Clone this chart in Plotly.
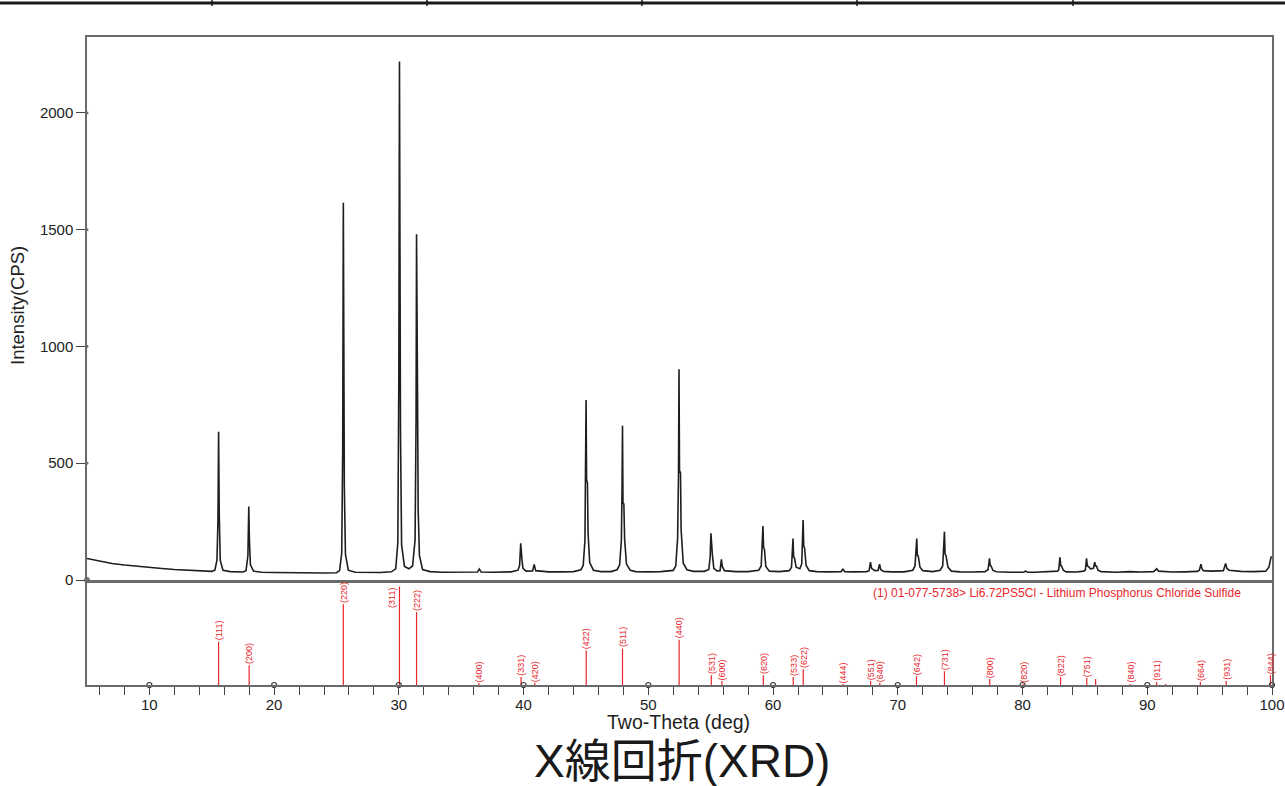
import plotly.graph_objects as go

two_theta = [
    5.0, 5.5, 6.0, 7.0, 8.0, 9.0, 10.0, 11.0, 12.0, 13.0, 14.0, 15.0,
    15.25, 15.42, 15.5, 15.55, 15.6, 15.68, 15.9, 16.5, 17.5,
    17.75, 17.9, 17.97, 18.02, 18.1, 18.35, 19.0, 20.0, 21.0, 22.0, 23.0, 24.0, 25.0,
    25.25, 25.42, 25.5, 25.55, 25.58, 25.63, 25.72, 25.95, 26.5, 27.5, 28.5, 29.4,
    29.75, 29.92, 30.0, 30.05, 30.08, 30.13, 30.22, 30.45, 30.8,
    31.1, 31.3, 31.38, 31.42, 31.45, 31.5, 31.55, 31.65, 31.9, 32.5, 33.5, 35.0,
    36.3, 36.45, 36.6, 37.5, 39.0, 39.55,
    39.68, 39.77, 39.82, 39.87, 39.95, 40.2, 40.72, 40.85, 40.97, 42.0, 43.0, 44.0, 44.6,
    44.78, 44.92, 44.97, 45.01, 45.05, 45.12, 45.17, 45.3, 45.6, 46.2, 47.0, 47.5,
    47.7, 47.84, 47.89, 47.93, 47.97, 48.04, 48.1, 48.25, 48.55, 49.0, 50.0, 51.0, 52.0,
    52.2, 52.35, 52.42, 52.46, 52.5, 52.58, 52.63, 52.8, 53.1, 53.6, 54.5,
    54.85, 54.96, 55.02, 55.07, 55.13, 55.25, 55.5, 55.75, 55.86, 55.93, 56.1, 57.0, 58.0,
    58.85, 59.05, 59.19, 59.24, 59.31, 59.42, 59.7, 60.5, 61.3,
    61.48, 61.6, 61.65, 61.72, 61.85, 62.15, 62.3, 62.41, 62.46, 62.53, 62.65, 62.9,
    63.5, 64.5, 65.45, 65.6, 65.75, 66.5, 67.5,
    67.7, 67.81, 67.9, 68.15, 68.42, 68.54, 68.63, 68.85, 69.5, 70.5, 71.2,
    71.38, 71.52, 71.57, 71.64, 71.78, 72.0, 72.8, 73.4,
    73.6, 73.74, 73.79, 73.87, 74.02, 74.3, 75.0, 76.0, 77.0,
    77.24, 77.35, 77.41, 77.48, 77.62, 77.9, 79.0, 80.1, 80.25, 80.4, 81.0, 82.0, 82.8,
    82.9, 83.0, 83.06, 83.13, 83.27, 83.5, 84.3, 84.9,
    85.04, 85.13, 85.2, 85.28, 85.45, 85.68, 85.79, 85.85, 85.93, 86.05, 86.3,
    87.5, 88.6, 89.5, 90.5, 90.76, 90.9, 92.0, 93.0, 94.0,
    94.18, 94.3, 94.38, 94.5, 95.2, 96.1, 96.28, 96.38, 96.55, 97.5, 98.5, 99.5,
    99.75, 99.93, 100.0,
]
intensity = [
    92, 86, 80, 71, 64, 58, 53, 49, 45, 42, 39, 37,
    42, 85, 260, 635, 290, 85, 42, 36, 34,
    40, 105, 315, 170, 65, 38, 33, 32, 31, 31, 30, 30, 31,
    40, 115, 560, 1615, 880, 400, 110, 42, 33, 31, 32, 35,
    48, 160, 880, 2220, 1250, 650, 150, 58, 48,
    60, 170, 680, 1480, 830, 790, 300, 105, 45, 36, 33, 33,
    34, 47, 34, 33, 35, 42,
    62, 157, 95, 86, 50, 38, 39, 67, 40, 35, 35, 36, 44,
    62, 170, 400, 771, 430, 415, 200, 75, 42, 36, 36, 44,
    65, 170, 380, 660, 330, 325, 175, 68, 42, 36, 35, 36, 41,
    60, 180, 450, 902, 470, 458, 215, 72, 44, 37, 37,
    45, 100, 200, 118, 112, 50, 39, 40, 88, 58, 40, 36, 36,
    42, 60, 231, 140, 131, 58, 38, 36, 40,
    55, 178, 100, 94, 55, 48, 70, 257, 145, 136, 62, 40,
    36, 35, 36, 46, 36, 35, 36,
    40, 76, 50, 40, 41, 68, 45, 37, 35, 35, 42,
    60, 178, 105, 103, 55, 40, 36, 42,
    60, 207, 112, 103, 55, 38, 35, 34, 36,
    45, 93, 62, 60, 42, 35, 33, 33, 39, 33, 33, 34, 38,
    43, 97, 62, 60, 42, 35, 34, 38,
    43, 93, 60, 58, 48, 50, 76, 60, 60, 42, 36,
    33, 36, 34, 36, 48, 38, 34, 35, 37,
    42, 68, 50, 40, 38, 40, 71, 50, 42, 37, 36, 38,
    55, 100, 95,
]

# ---------------- reference card 01-077-5738 (stick pattern) ----------------
ref_two_theta = [15.55, 18.0, 25.55, 30.05, 31.42, 36.42, 39.8, 40.9, 45.02, 47.93,
                 52.47, 55.05, 55.9, 59.22, 61.62, 62.42, 65.6, 67.82, 68.56, 71.5,
                 73.74, 77.37, 80.05, 83.05, 85.15, 85.86, 88.62, 90.75, 91.47, 94.26,
                 96.33, 99.88]
ref_rel_int = [44, 20, 82, 100, 74, 2, 8, 2, 35, 37,
               46, 10, 4, 10, 8, 16, 1, 4, 2, 9,
               14, 6, 1, 8, 7, 6, 1, 3, 1, 3,
               4, 10]
ref_hkl = ["(111)", "(200)", "(220)", "(311)", "(222)", "(400)", "(331)", "(420)", "(422)", "(511)",
           "(440)", "(531)", "(600)", "(620)", "(533)", "(622)", "(444)", "(551)", "(640)", "(642)",
           "(731)", "(800)", "(820)", "(822)", "(751)", "", "(840)", "(911)", "", "(664)",
           "(931)", "(844)"]

y_ticks = [0, 500, 1000, 1500, 2000]
x_ticks = [10, 20, 30, 40, 50, 60, 70, 80, 90, 100]
card_label = "(1) 01-077-5738> Li6.72PS5Cl - Lithium Phosphorus Chloride Sulfide"

W, H = 1285, 786
RED = "#e8262b"
FRAME = "#6a6a6a"
FONT = "Liberation Sans, Arial, Helvetica, sans-serif"

x_dom = [87 / W, 1272 / W]
y1_dom = [(H - 580) / H, (H - 37) / H]
y2_dom = [(H - 685) / H, (H - 583) / H]

fig = go.Figure()

# pattern
fig.add_trace(go.Scatter(x=two_theta, y=intensity, mode="lines",
                         line=dict(color="#1e1e1e", width=1.6),
                         xaxis="x", yaxis="y", hoverinfo="skip", showlegend=False))

# y-tick dots on the upper panel axis
fig.add_trace(go.Scatter(x=[5] * len(y_ticks), y=y_ticks, mode="markers",
                         marker=dict(color="#333", size=[7] + [4] * (len(y_ticks) - 1)),
                         xaxis="x", yaxis="y", cliponaxis=False,
                         hoverinfo="skip", showlegend=False))

# sticks
sx, sy = [], []
for t, r in zip(ref_two_theta, ref_rel_int):
    sx += [t, t, None]
    sy += [0, r, None]
fig.add_trace(go.Scatter(x=sx, y=sy, mode="lines", line=dict(color=RED, width=1.2),
                         xaxis="x2", yaxis="y2", hoverinfo="skip", showlegend=False))

# circle markers at major x positions
fig.add_trace(go.Scatter(x=x_ticks, y=[0] * len(x_ticks), mode="markers",
                         marker=dict(symbol="circle-open", color="#333", size=5,
                                     line=dict(width=1.2, color="#333")),
                         xaxis="x2", yaxis="y2", cliponaxis=False,
                         hoverinfo="skip", showlegend=False))

annotations = []
for t, r, lab in zip(ref_two_theta, ref_rel_int, ref_hkl):
    if not lab:
        continue
    if r >= 95:
        annotations.append(dict(x=t, y=r, xref="x2", yref="y2", text=lab, textangle=-90,
                                showarrow=False, xanchor="right", yanchor="top",
                                xshift=-1, borderpad=0,
                                font=dict(size=9, color=RED, family=FONT)))
    else:
        annotations.append(dict(x=t, y=r, xref="x2", yref="y2", text=lab, textangle=-90,
                                showarrow=False, xanchor="center", yanchor="bottom",
                                borderpad=0,
                                font=dict(size=9, color=RED, family=FONT)))

annotations.append(dict(x=1243 / W, y=(H - 593) / H, xref="paper", yref="paper",
                        text=card_label, showarrow=False, xanchor="right", yanchor="middle",
                        font=dict(size=12, color=RED, family=FONT)))
annotations.append(dict(x=17 / W, y=(H - 306) / H, xref="paper", yref="paper",
                        text="Intensity(CPS)", textangle=-90, showarrow=False,
                        xanchor="center", yanchor="middle",
                        font=dict(size=18.5, color="#222", family=FONT)))
annotations.append(dict(x=678 / W, y=(H - 722) / H, xref="paper", yref="paper",
                        text="Two-Theta (deg)", showarrow=False,
                        xanchor="center", yanchor="middle",
                        font=dict(size=19.5, color="#222", family=FONT)))
annotations.append(dict(x=682 / W, y=(H - 761) / H, xref="paper", yref="paper",
                        text="X線回折(XRD)", showarrow=False,
                        xanchor="center", yanchor="middle",
                        font=dict(size=46, color="#1a1a1a",
                                  family="Liberation Sans, Noto Sans CJK JP, sans-serif")))

# decorative top rule with small ticks
shapes = [dict(type="line", xref="paper", yref="paper", x0=0, x1=1, y0=(H - 3) / H, y1=(H - 3) / H,
               line=dict(color="#1a1a1a", width=3))]
for px in [212, 427, 642, 857, 1073]:
    shapes.append(dict(type="line", xref="paper", yref="paper", x0=px / W, x1=px / W,
                       y0=(H - 0) / H, y1=(H - 6) / H, line=dict(color="#1a1a1a", width=1.5)))

fig.update_layout(
    width=W, height=H,
    margin=dict(l=0, r=0, t=0, b=0),
    paper_bgcolor="white", plot_bgcolor="white",
    font=dict(family=FONT, color="#222"),
    showlegend=False,
    annotations=annotations,
    shapes=shapes,
    xaxis=dict(domain=x_dom, range=[5, 100], anchor="y", showticklabels=False, ticks="",
               showgrid=False, zeroline=False, showline=True, mirror=True,
               linecolor=FRAME, linewidth=1.5, automargin=False),
    yaxis=dict(domain=y1_dom, range=[0, 2325], anchor="x", tickvals=y_ticks,
               ticks="outside", ticklen=9, tickcolor="#444", tickwidth=1,
               tickfont=dict(size=15, color="#222"),
               showgrid=False, zeroline=False, showline=True, mirror=True,
               linecolor=FRAME, linewidth=1.5, automargin=False),
    xaxis2=dict(domain=x_dom, range=[5, 100], anchor="y2", tickvals=x_ticks,
                ticks="", tickfont=dict(size=15, color="#222"), ticklabelstandoff=5,
                minor=dict(dtick=2, tick0=0, ticks="outside", ticklen=8,
                           tickcolor="#444", tickwidth=1, showgrid=False),
                showgrid=False, zeroline=False, showline=True, mirror=True,
                linecolor=FRAME, linewidth=1.5, automargin=False),
    yaxis2=dict(domain=y2_dom, range=[0, 103.5], anchor="x2", showticklabels=False,
                ticks="", showgrid=False, zeroline=False, showline=True, mirror=True,
                linecolor=FRAME, linewidth=1.5, automargin=False),
)

fig.write_html("out.html")
